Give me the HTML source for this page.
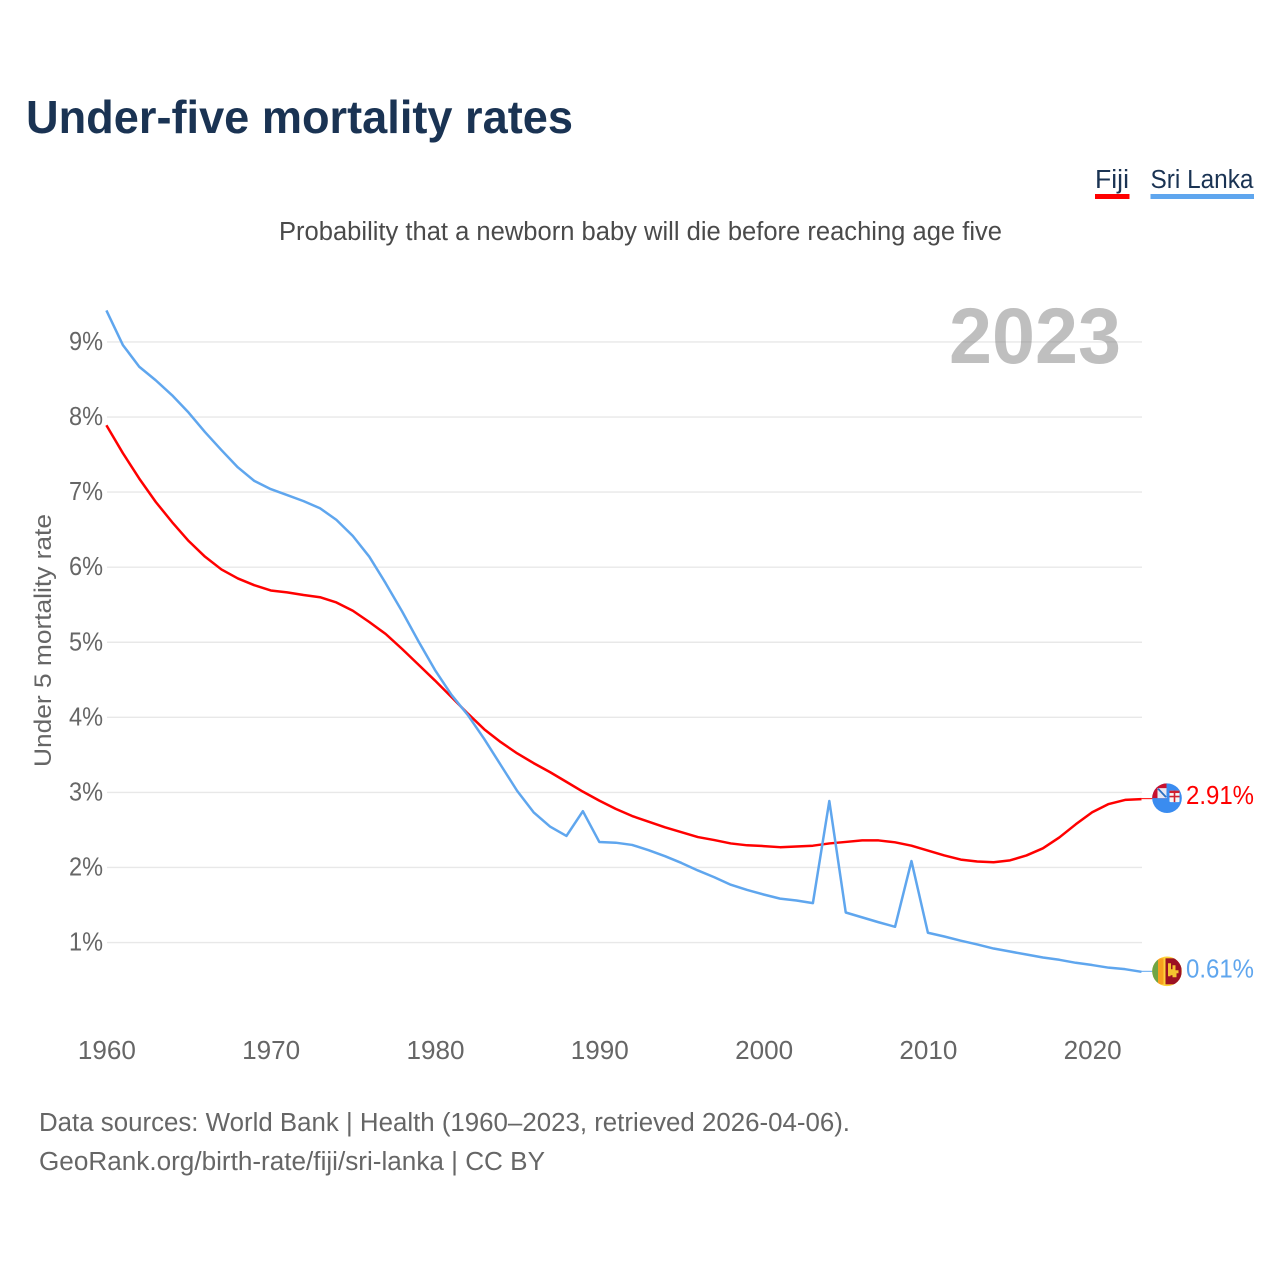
<!DOCTYPE html>
<html lang="en">
<head>
<meta charset="utf-8">
<title>Under-five mortality rates</title>
<style>
html,body{margin:0;padding:0;background:#fff;width:1280px;height:1280px;overflow:hidden}
svg{display:block}
text{font-family:"Liberation Sans",sans-serif}
</style>
</head>
<body>
<svg id="chart" xmlns="http://www.w3.org/2000/svg" width="1280" height="1280" viewBox="0 0 1280 1280">
  <defs>
    <clipPath id="clip-fiji"><circle cx="1167" cy="0" r="14.8" id="clip-fiji-circle"/></clipPath>
    <clipPath id="clip-lanka"><circle cx="1167" cy="0" r="14.8" id="clip-lanka-circle"/></clipPath>
  </defs>
  <rect width="1280" height="1280" fill="#fff"/>
  <text x="26" y="133" font-size="46" font-weight="700" fill="#1a3353" textLength="547" lengthAdjust="spacingAndGlyphs">Under-five mortality rates</text>

  <g>
    <text x="1095" y="188" font-size="25.5" fill="#1a3353" textLength="34" lengthAdjust="spacingAndGlyphs">Fiji</text>
    <rect x="1095" y="194" width="34.5" height="5" fill="#ff0000"/>
    <text x="1150.5" y="188" font-size="25.5" fill="#1a3353" textLength="103" lengthAdjust="spacingAndGlyphs">Sri Lanka</text>
    <rect x="1150.5" y="194" width="103.5" height="5" fill="#5fa6ee"/>
  </g>

  <text x="279" y="240" font-size="25.5" fill="#4a4a4a" textLength="723" lengthAdjust="spacingAndGlyphs">Probability that a newborn baby will die before reaching age five</text>

  <g id="gridlines"></g>
  <text x="949" y="363" font-size="79" font-weight="700" fill="#808080" fill-opacity="0.5" textLength="172" lengthAdjust="spacingAndGlyphs">2023</text>
  <g id="y-ticks"></g>
  <g id="x-ticks"></g>
  <text transform="translate(51,767) rotate(-90)" font-size="24.5" fill="#666" textLength="253" lengthAdjust="spacingAndGlyphs">Under 5 mortality rate</text>

  <g id="series"></g>

  <g id="flag-fiji" clip-path="url(#clip-fiji)"></g>
  <g id="flag-lanka" clip-path="url(#clip-lanka)"></g>
  <text id="value-fiji" x="1186" font-size="25.5" fill="#ff0000" textLength="68" lengthAdjust="spacingAndGlyphs">2.91%</text>
  <text id="value-lanka" x="1186" font-size="25.5" fill="#5fa6ee" textLength="68" lengthAdjust="spacingAndGlyphs">0.61%</text>

  <text x="39" y="1131" font-size="25.5" fill="#666" textLength="811" lengthAdjust="spacingAndGlyphs">Data sources: World Bank | Health (1960–2023, retrieved 2026-04-06).</text>
  <text x="39" y="1170" font-size="25.5" fill="#666" textLength="506" lengthAdjust="spacingAndGlyphs">GeoRank.org/birth-rate/fiji/sri-lanka | CC BY</text>
</svg>
<script>
const startYear = 1960;
const yTicks = [1, 2, 3, 4, 5, 6, 7, 8, 9];
const yTickLabels = ["1%", "2%", "3%", "4%", "5%", "6%", "7%", "8%", "9%"];
const xTicks = [1960, 1970, 1980, 1990, 2000, 2010, 2020];
const fijiValues = [
  7.89, 7.52, 7.18, 6.87, 6.60, 6.35, 6.14, 5.97, 5.85, 5.76,
  5.69, 5.665, 5.63, 5.60, 5.53, 5.42, 5.27, 5.11, 4.91, 4.70,
  4.49, 4.27, 4.05, 3.84, 3.67, 3.52, 3.39, 3.27, 3.14, 3.01,
  2.89, 2.78, 2.685, 2.61, 2.535, 2.47, 2.405, 2.365, 2.32, 2.295,
  2.285, 2.27, 2.28, 2.29, 2.32, 2.34, 2.36, 2.36, 2.335, 2.29,
  2.225, 2.16, 2.105, 2.08, 2.07, 2.095, 2.16, 2.255, 2.40, 2.575,
  2.735, 2.845, 2.90, 2.91
];
const sriLankaValues = [
  9.42, 8.96, 8.67, 8.49, 8.29, 8.06, 7.80, 7.56, 7.33, 7.15,
  7.04, 6.96, 6.88, 6.785, 6.63, 6.415, 6.14, 5.785, 5.41, 5.01,
  4.63, 4.30, 4.03, 3.71, 3.365, 3.02, 2.735, 2.545, 2.42, 2.75,
  2.34, 2.33, 2.30, 2.23, 2.15, 2.06, 1.96, 1.87, 1.77, 1.70,
  1.64, 1.585, 1.56, 1.525, 2.885, 1.40, 1.335, 1.27, 1.21, 2.085,
  1.13, 1.08, 1.025, 0.975, 0.92, 0.88, 0.84, 0.80, 0.77, 0.73,
  0.70, 0.665, 0.645, 0.61
];

const NS = "http://www.w3.org/2000/svg";
function xScale(year) { return 106.4 + (year - startYear) * 16.43; }
function yScale(v) { return 1017.6 - v * 75.07; }
function make(tag, attrs, parent) {
  const el = document.createElementNS(NS, tag);
  for (const k in attrs) el.setAttribute(k, attrs[k]);
  parent.appendChild(el);
  return el;
}

const gridG = document.getElementById("gridlines");
const yG = document.getElementById("y-ticks");
yTicks.forEach(function (t, i) {
  const line = make("line", { x1: 107, x2: 1142, y1: yScale(t), y2: yScale(t), stroke: "#e8e8e8", "stroke-width": 1.4 }, gridG);
  
  
  const label = make("text", { x: 103, y: yScale(t) + 8, "text-anchor": "end", "font-size": 25.5, fill: "#666", textLength: 34, lengthAdjust: "spacingAndGlyphs" }, yG);
  
  
  label.textContent = yTickLabels[i];
});

const xG = document.getElementById("x-ticks");
xTicks.forEach(function (t) {
  const label = make("text", { x: xScale(t) + 0.5, y: 1059, "text-anchor": "middle", "font-size": 25.5, fill: "#666", textLength: 58, lengthAdjust: "spacingAndGlyphs" }, xG);
  
  
  label.textContent = String(t);
});

const seriesG = document.getElementById("series");
function drawSeries(values, color, name) {
  const pts = values.map(function (v, i) { return xScale(startYear + i).toFixed(2) + "," + yScale(v).toFixed(2); });
  const path = make("polyline", { points: pts.join(" "), fill: "none", stroke: color, "stroke-width": 2.5, "stroke-linejoin": "round" }, seriesG);
  
  
  const lastV = values[values.length - 1];
  const lastX = xScale(startYear + values.length - 1);
  const conn = make("line", { x1: lastX, x2: lastX + 11, y1: yScale(lastV) - 0.5, y2: yScale(lastV) - 0.5, stroke: color, "stroke-width": 1 }, seriesG);
  
  
}
drawSeries(fijiValues, "#ff0000", "line-fiji");
drawSeries(sriLankaValues, "#5fa6ee", "line-sri-lanka");

const fy = yScale(fijiValues[fijiValues.length - 1]) - 1;
const ly = yScale(sriLankaValues[sriLankaValues.length - 1]) - 0.5;
document.getElementById("clip-fiji-circle").setAttribute("cy", fy);
document.getElementById("clip-lanka-circle").setAttribute("cy", ly);
document.getElementById("value-fiji").setAttribute("y", fy + 6);
document.getElementById("value-lanka").setAttribute("y", ly + 6);

const f = document.getElementById("flag-fiji");
make("rect", { x: 1150, y: fy - 16, width: 34, height: 32, fill: "#3a8cf0" }, f);
make("rect", { x: 1151, y: fy - 16, width: 15.5, height: 16, fill: "#c8102e" }, f);
make("rect", { x: 1157.5, y: fy - 10, width: 9, height: 10, fill: "#e8e8f4" }, f);
make("path", { d: "M1158 " + (fy - 9.5) + " L1166 " + (fy - 1), stroke: "#2a6fc0", "stroke-width": 1.8, fill: "none" }, f);
make("rect", { x: 1169.5, y: fy - 7.5, width: 10, height: 11.5, rx: 1, fill: "#f6f6f6" }, f);
make("rect", { x: 1169.5, y: fy - 7.5, width: 10, height: 2.4, fill: "#d02030" }, f);
make("rect", { x: 1173.7, y: fy - 7.5, width: 1.6, height: 11.5, fill: "#d02030" }, f);
make("rect", { x: 1169.5, y: fy - 2.4, width: 10, height: 1.6, fill: "#d02030" }, f);

const l = document.getElementById("flag-lanka");
make("rect", { x: 1150, y: ly - 16, width: 34, height: 32, fill: "#fdd23a" }, l);
make("rect", { x: 1151, y: ly - 13, width: 7, height: 26, fill: "#6fa544" }, l);
make("rect", { x: 1158, y: ly - 13, width: 5.5, height: 26, fill: "#f7a01f" }, l);
make("rect", { x: 1165.5, y: ly - 13, width: 16, height: 26, fill: "#9c1122" }, l);
make("path", { d: "M1168 " + (ly - 8) + " h3 v6 h1.5 v-4 h3 v5 h3 v3 h-2 v4 h-4 v-2 h-2 v1 h-2.5 z", fill: "#f4c430" }, l);
</script>
</body>
</html>
